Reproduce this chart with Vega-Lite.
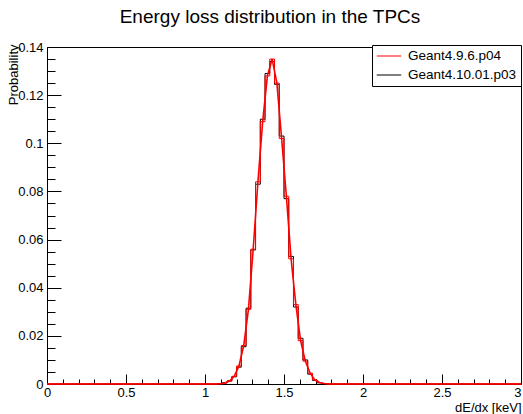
{
  "$schema": "https://vega.github.io/schema/vega-lite/v6.json",
  "width": 474,
  "height": 337,
  "autosize": {"type": "none"},
  "padding": {"left": 47, "top": 47, "right": 2, "bottom": 30},
  "background": "white",
  "title": {
    "text": "Energy loss distribution in the TPCs",
    "font": "Liberation Sans",
    "fontSize": 19,
    "fontWeight": "normal",
    "color": "black",
    "anchor": "middle",
    "dx": -14,
    "offset": 14
  },
  "config": {
    "view": {"stroke": "black", "strokeWidth": 1},
    "axis": {
      "grid": false,
      "domainColor": "black",
      "tickColor": "black",
      "labelFont": "Liberation Sans",
      "labelFontSize": 13,
      "labelColor": "black",
      "titleFont": "Liberation Sans",
      "titleFontSize": 13,
      "titleFontWeight": "normal",
      "titleColor": "black"
    }
  },
  "datasets": {
    "hist": [
      {"series": "Geant4.10.01.p03", "x": 0, "p": 0},
      {"series": "Geant4.10.01.p03", "x": 1.065, "p": 0},
      {"series": "Geant4.10.01.p03", "x": 1.095, "p": 0.0002},
      {"series": "Geant4.10.01.p03", "x": 1.125, "p": 0.0005},
      {"series": "Geant4.10.01.p03", "x": 1.155, "p": 0.0013},
      {"series": "Geant4.10.01.p03", "x": 1.185, "p": 0.003},
      {"series": "Geant4.10.01.p03", "x": 1.215, "p": 0.007},
      {"series": "Geant4.10.01.p03", "x": 1.245, "p": 0.0155},
      {"series": "Geant4.10.01.p03", "x": 1.275, "p": 0.0315},
      {"series": "Geant4.10.01.p03", "x": 1.305, "p": 0.0557},
      {"series": "Geant4.10.01.p03", "x": 1.335, "p": 0.083},
      {"series": "Geant4.10.01.p03", "x": 1.365, "p": 0.110},
      {"series": "Geant4.10.01.p03", "x": 1.395, "p": 0.129},
      {"series": "Geant4.10.01.p03", "x": 1.425, "p": 0.134},
      {"series": "Geant4.10.01.p03", "x": 1.455, "p": 0.1245},
      {"series": "Geant4.10.01.p03", "x": 1.485, "p": 0.103},
      {"series": "Geant4.10.01.p03", "x": 1.515, "p": 0.077},
      {"series": "Geant4.10.01.p03", "x": 1.545, "p": 0.053},
      {"series": "Geant4.10.01.p03", "x": 1.575, "p": 0.032},
      {"series": "Geant4.10.01.p03", "x": 1.605, "p": 0.019},
      {"series": "Geant4.10.01.p03", "x": 1.635, "p": 0.010},
      {"series": "Geant4.10.01.p03", "x": 1.665, "p": 0.0041},
      {"series": "Geant4.10.01.p03", "x": 1.695, "p": 0.0015},
      {"series": "Geant4.10.01.p03", "x": 1.725, "p": 0.0005},
      {"series": "Geant4.10.01.p03", "x": 1.755, "p": 0.0002},
      {"series": "Geant4.10.01.p03", "x": 1.785, "p": 0},
      {"series": "Geant4.10.01.p03", "x": 3, "p": 0},
      {"series": "Geant4.9.6.p04", "x": 0, "p": 0},
      {"series": "Geant4.9.6.p04", "x": 1.065, "p": 0},
      {"series": "Geant4.9.6.p04", "x": 1.095, "p": 0.0001},
      {"series": "Geant4.9.6.p04", "x": 1.125, "p": 0.0004},
      {"series": "Geant4.9.6.p04", "x": 1.155, "p": 0.0012},
      {"series": "Geant4.9.6.p04", "x": 1.185, "p": 0.0032},
      {"series": "Geant4.9.6.p04", "x": 1.215, "p": 0.0075},
      {"series": "Geant4.9.6.p04", "x": 1.245, "p": 0.016},
      {"series": "Geant4.9.6.p04", "x": 1.275, "p": 0.031},
      {"series": "Geant4.9.6.p04", "x": 1.305, "p": 0.056},
      {"series": "Geant4.9.6.p04", "x": 1.335, "p": 0.084},
      {"series": "Geant4.9.6.p04", "x": 1.365, "p": 0.109},
      {"series": "Geant4.9.6.p04", "x": 1.395, "p": 0.128},
      {"series": "Geant4.9.6.p04", "x": 1.425, "p": 0.135},
      {"series": "Geant4.9.6.p04", "x": 1.455, "p": 0.125},
      {"series": "Geant4.9.6.p04", "x": 1.485, "p": 0.102},
      {"series": "Geant4.9.6.p04", "x": 1.515, "p": 0.078},
      {"series": "Geant4.9.6.p04", "x": 1.545, "p": 0.052},
      {"series": "Geant4.9.6.p04", "x": 1.575, "p": 0.033},
      {"series": "Geant4.9.6.p04", "x": 1.605, "p": 0.018},
      {"series": "Geant4.9.6.p04", "x": 1.635, "p": 0.0095},
      {"series": "Geant4.9.6.p04", "x": 1.665, "p": 0.0045},
      {"series": "Geant4.9.6.p04", "x": 1.695, "p": 0.0017},
      {"series": "Geant4.9.6.p04", "x": 1.725, "p": 0.0006},
      {"series": "Geant4.9.6.p04", "x": 1.755, "p": 0.0002},
      {"series": "Geant4.9.6.p04", "x": 1.785, "p": 0},
      {"series": "Geant4.9.6.p04", "x": 3, "p": 0}
    ]
  },
  "data": {"name": "hist"},
  "layer": [
    {
      "transform": [{"filter": "datum.series === 'Geant4.10.01.p03'"}],
      "mark": {"type": "line", "interpolate": "step", "strokeWidth": 1},
      "encoding": {
        "x": {
          "field": "x", "type": "quantitative",
          "scale": {"domain": [0, 3], "nice": false, "zero": false},
          "axis": {
            "orient": "bottom",
            "values": [0, 0.5, 1, 1.5, 2, 2.5, 3],
            "format": ".1~f",
            "tickSize": -10,
            "labelPadding": 12,
            "labelFlush": false,
            "labelOverlap": false,
            "labelAlign": {"condition": {"test": "datum.value === 3", "value": "right"}, "value": "center"},
            "title": "dE/dx [keV]",
            "titleAnchor": "end",
            "titleAlign": "right",
            "titlePadding": 2
          }
        },
        "y": {
          "field": "p", "type": "quantitative",
          "scale": {"domain": [0, 0.14], "nice": false},
          "axis": {
            "orient": "left",
            "values": [0, 0.02, 0.04, 0.06, 0.08, 0.1, 0.12, 0.14],
            "format": ".2~f",
            "tickSize": -14,
            "labelPadding": 18,
            "labelFlush": false,
            "labelOverlap": false,
            "title": "Probability",
            "titleAnchor": "end",
            "titleAngle": -90,
            "titleAlign": "right",
            "titleBaseline": "middle",
            "titleX": -34,
            "titleY": -3
          }
        },
        "color": {
          "field": "series", "type": "nominal",
          "scale": {"domain": ["Geant4.9.6.p04", "Geant4.10.01.p03"], "range": ["#ff0000", "#000000"]},
          "legend": {
            "title": null,
            "orient": "none",
            "legendX": 325,
            "legendY": -2,
            "strokeColor": "black",
            "fillColor": "white",
            "padding": 4,
            "cornerRadius": 0,
            "symbolType": "stroke",
            "symbolSize": 600,
            "symbolStrokeWidth": 1,
            "labelFont": "Liberation Sans",
            "labelFontSize": 13.5,
            "labelColor": "black",
            "labelOffset": 6,
            "clipHeight": 14,
            "rowPadding": 5
          }
        }
      }
    },
    {
      "transform": [{"filter": "datum.series === 'Geant4.9.6.p04'"}],
      "mark": {"type": "line", "interpolate": "step", "strokeWidth": 1},
      "encoding": {
        "x": {
          "field": "x", "type": "quantitative",
          "axis": {
            "orient": "top",
            "offset": -337,
            "values": [0.1, 0.2, 0.3, 0.4, 0.6, 0.7, 0.8, 0.9, 1.1, 1.2, 1.3, 1.4, 1.6, 1.7, 1.8, 1.9, 2.1, 2.2, 2.3, 2.4, 2.6, 2.7, 2.8, 2.9],
            "tickSize": 5,
            "labels": false,
            "domain": false,
            "title": null
          }
        },
        "y": {
          "field": "p", "type": "quantitative",
          "axis": {
            "orient": "right",
            "offset": -474,
            "values": [0.005, 0.01, 0.015, 0.025, 0.03, 0.035, 0.045, 0.05, 0.055, 0.065, 0.07, 0.075, 0.085, 0.09, 0.095, 0.105, 0.11, 0.115, 0.125, 0.13, 0.135],
            "tickSize": 8,
            "labels": false,
            "domain": false,
            "title": null
          }
        },
        "color": {"field": "series", "type": "nominal"}
      }
    },
    {
      "transform": [{"filter": "datum.series === 'Geant4.9.6.p04'"}],
      "mark": {"type": "line", "interpolate": "linear", "strokeWidth": 1.6},
      "encoding": {
        "x": {"field": "x", "type": "quantitative", "axis": null},
        "y": {"field": "p", "type": "quantitative", "axis": null},
        "color": {"field": "series", "type": "nominal"}
      }
    }
  ],
  "resolve": {"axis": {"x": "independent", "y": "independent"}}
}
